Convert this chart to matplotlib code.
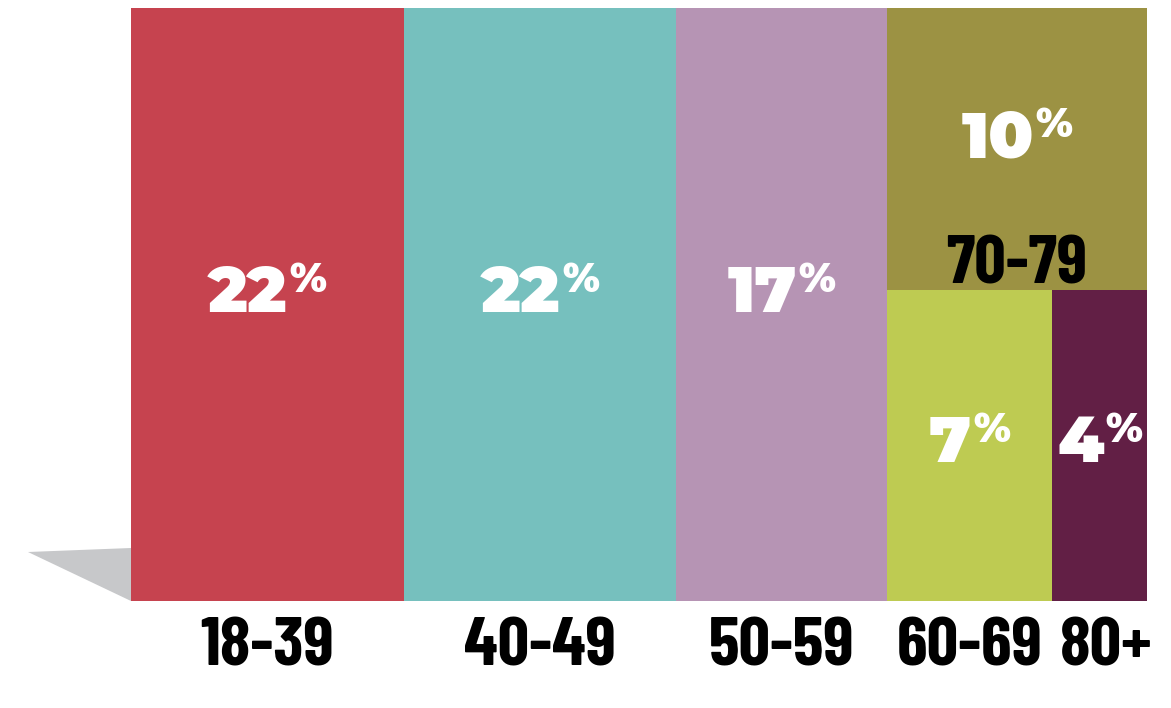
import matplotlib.pyplot as plt
from matplotlib.patches import Rectangle, Polygon

###   DONNEES   ###

tranches = ['18-39', '40-49', '50-59', '60-69', '70-79', '80+']
pourcents = [22, 22, 17, 7, 10, 4]
couleurs = ['#c6434f', '#76c0be', '#b694b4', '#becb52', '#9c9243', '#621f45']

# les 3 premieres tranches = colonnes pleines, les 3 dernieres partagent la derniere colonne
pleines = tranches[:3]
bas = ['60-69', '80+']
haut = '70-79'

val = dict(zip(tranches, pourcents))
col = dict(zip(tranches, couleurs))

###   POLICES   ###

font_chiffres = dict(family=['Montserrat Alternates', 'DejaVu Sans'], weight=900, color='white')
font_labels = dict(family=['Barlow Condensed', 'DejaVu Sans'], weight=700, color='black')
taille_chiffres = 47
taille_pct = 29
taille_labels = 50

fig = plt.figure(figsize=(11.71, 7.08), dpi=100)
H = 593  # hauteur des axes en pixels
ax = fig.add_axes([131/1171, 1-601/708, 1016/1171, H/708])
total = sum(pourcents)
ax.set_xlim(0, total)
ax.set_ylim(0, 1)
ax.axis('off')

# ombre grise a gauche
px = total/1016
ax.add_patch(Polygon([(-103*px, 49/H), (0, 53/H), (0, 0)], closed=True,
                     facecolor='#c7c8ca', edgecolor='none', clip_on=False))

paires = []


def pourcentage(x, yb, v):
    t = ax.annotate(str(v), xy=(x, yb), xytext=(0, 0), textcoords='offset points',
                    ha='center', va='baseline', fontsize=taille_chiffres, **font_chiffres)
    p = ax.annotate('%', xy=(x, yb), xytext=(0, 20*0.72), textcoords='offset points',
                    ha='left', va='baseline', fontsize=taille_pct, **font_chiffres)
    paires.append((t, p))


def label(x, yb, t):
    ax.text(x, yb, t, ha='center', va='baseline', fontsize=taille_labels,
            clip_on=False, **font_labels)


# colonnes pleines
x0 = 0
for t in pleines:
    w = val[t]
    ax.add_patch(Rectangle((x0, 0), w, 1, facecolor=col[t], edgecolor='none'))
    pourcentage(x0 + w/2, 289/H, w)
    label(x0 + w/2, -65/H, t)
    x0 += w

# derniere colonne : 70-79 en haut, 60-69 et 80+ en bas
larg = sum(val[t] for t in bas) + val[haut]
h_bas = 1 - val[haut]/larg
ax.add_patch(Rectangle((x0, h_bas), larg, 1-h_bas, facecolor=col[haut], edgecolor='none'))
pourcentage(x0 + larg/2, 444/H, val[haut])
label(x0 + larg/2, 318/H, haut)

xb = x0
lb = sum(val[t] for t in bas)
for t in bas:
    w = larg*val[t]/lb
    ax.add_patch(Rectangle((xb, 0), w, h_bas, facecolor=col[t], edgecolor='none'))
    pourcentage(xb + w/2, 139/H, val[t])
    label(xb + w/2 + (6*px if t == '80+' else 0), -65/H, t)
    xb += w

# centrage du groupe chiffres + %
fig.canvas.draw()
r = fig.canvas.get_renderer()
for t, p in paires:
    wd = t.get_window_extent(r).width
    wp = p.get_window_extent(r).width
    gap = 2
    tot = wd + gap + wp
    t.xyann = ((-tot/2 + wd/2)*0.72, 0)
    p.xyann = ((-tot/2 + wd + gap)*0.72, 20*0.72)

plt.savefig('out.png', dpi=100)
